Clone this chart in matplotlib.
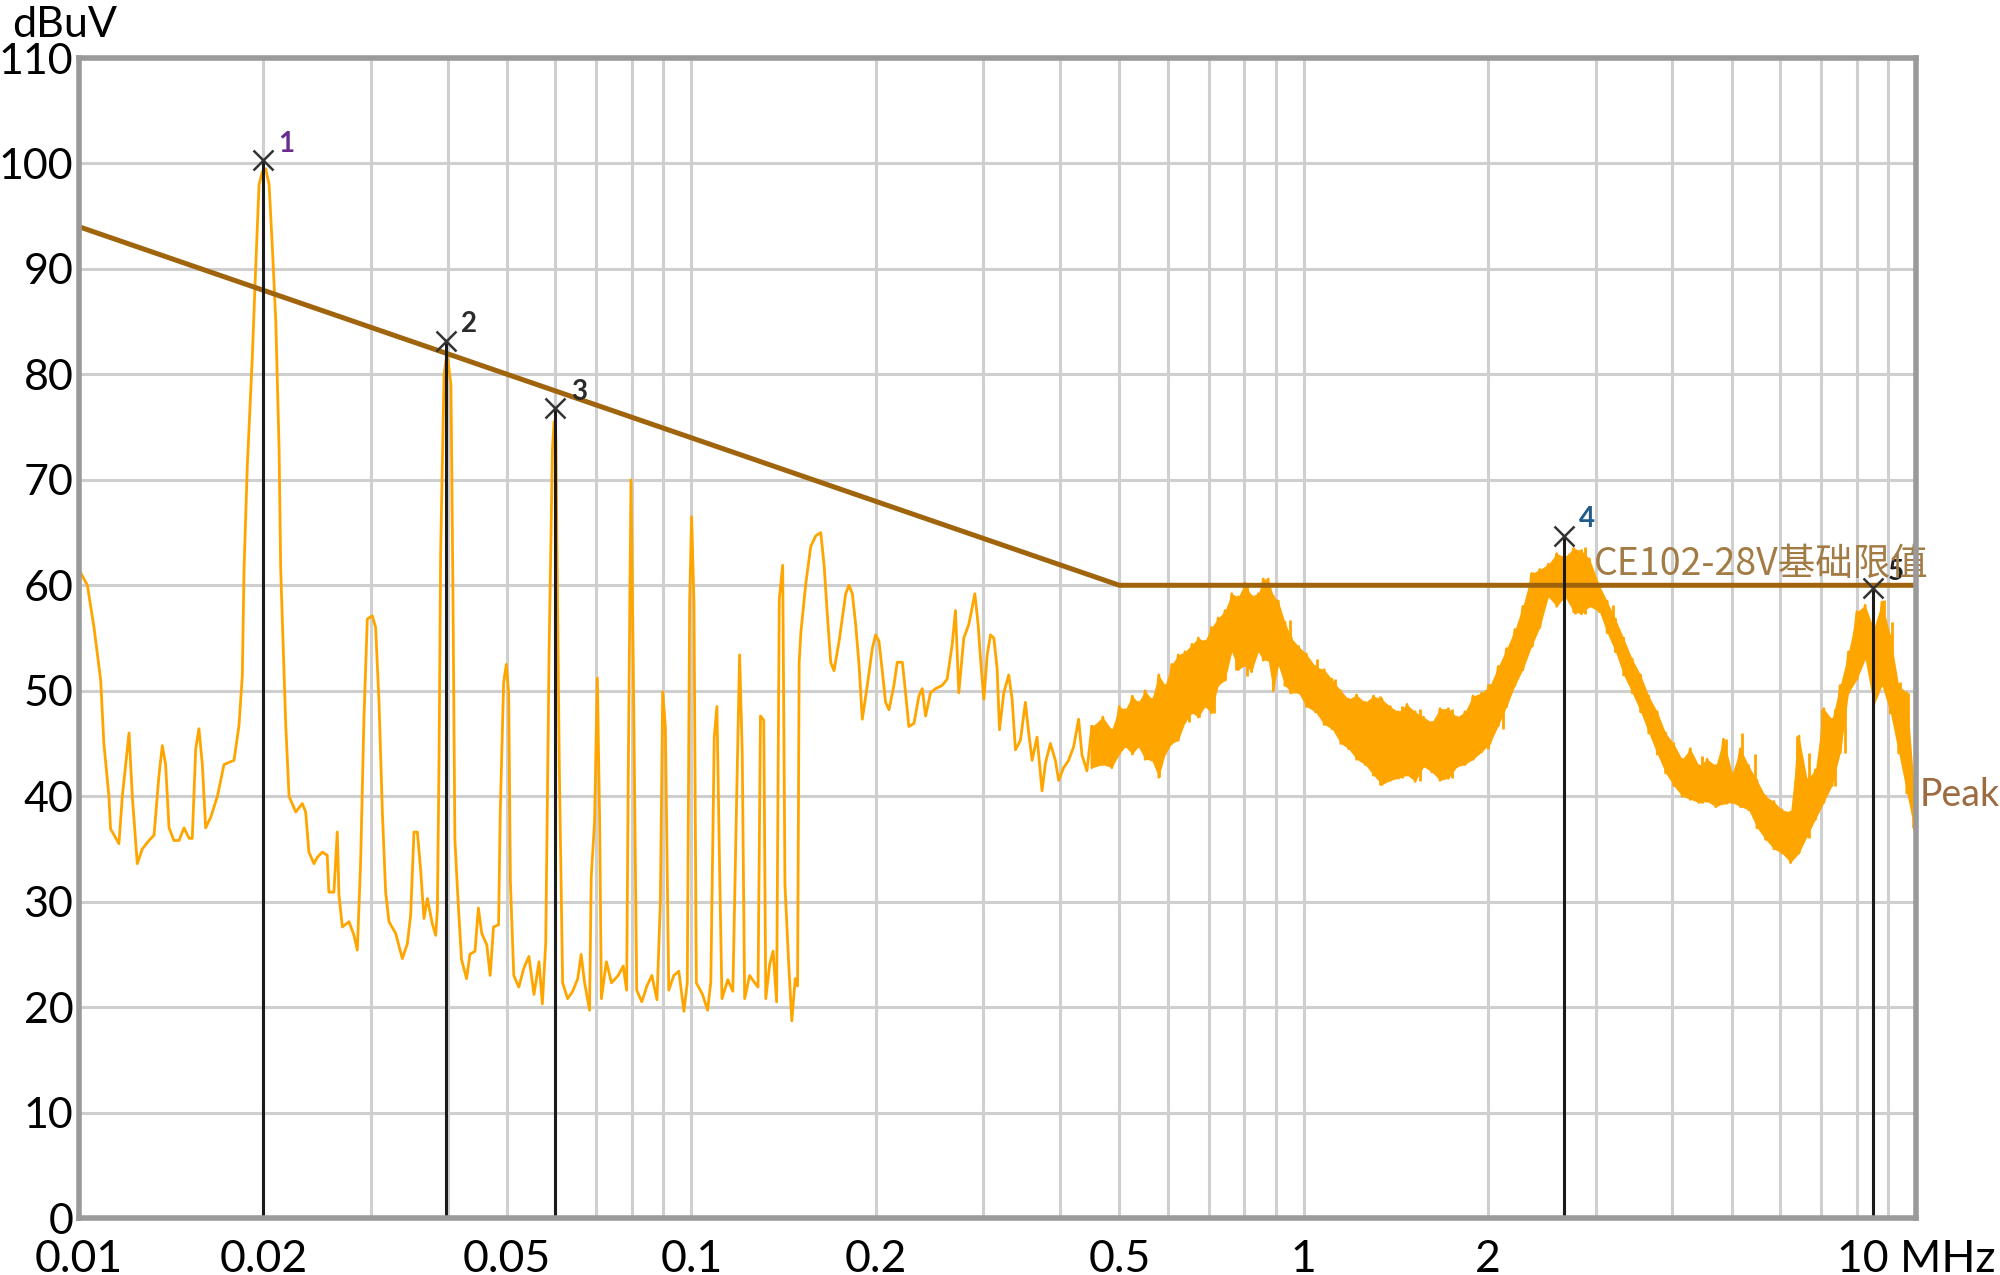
import numpy as np
import matplotlib
matplotlib.use("Agg")
import matplotlib.pyplot as plt
import matplotlib.transforms as mtransforms

plt.rcParams['font.family'] = ['Lato', 'DejaVu Sans']

# thin part of the trace, 0.01 - 0.45 MHz  (MHz, dBuV)
trace_f = [0.01006, 0.01032, 0.01058, 0.01085, 0.01098, 0.01119, 0.01126, 0.01162, 0.01177, 0.01207,
           0.01222, 0.01245, 0.01269, 0.01301, 0.01326, 0.01351, 0.01368, 0.01385, 0.01403, 0.01429,
           0.01457, 0.01484, 0.01513, 0.01531, 0.01551, 0.01570, 0.01590, 0.01610, 0.01641, 0.01683,
           0.01725, 0.01791, 0.01825, 0.01848, 0.01860, 0.01883, 0.01919, 0.01943, 0.01968, 0.01993,
           0.02018, 0.02044, 0.02070, 0.02096, 0.02122, 0.02135, 0.02176, 0.02203, 0.02259, 0.02316,
           0.02345, 0.02374, 0.02419, 0.02450, 0.02496, 0.02543, 0.02559, 0.02608, 0.02641, 0.02658,
           0.02692, 0.02760, 0.02813, 0.02848, 0.02884, 0.02920, 0.02957, 0.03013, 0.03051, 0.03090,
           0.03129, 0.03168, 0.03208, 0.03289, 0.03373, 0.03437, 0.03480, 0.03524, 0.03569, 0.03614,
           0.03659, 0.03706, 0.03776, 0.03824, 0.03848, 0.03872, 0.03896, 0.03946, 0.03990, 0.04050,
           0.04082, 0.04110, 0.04161, 0.04214, 0.04295, 0.04349, 0.04433, 0.04490, 0.04547, 0.04634,
           0.04693, 0.04753, 0.04844, 0.04875, 0.04937, 0.04988, 0.05032, 0.05064, 0.05129, 0.05227,
           0.05327, 0.05429, 0.05534, 0.05639, 0.05711, 0.05784, 0.05858, 0.05932, 0.05970, 0.06008,
           0.06086, 0.06163, 0.06281, 0.06402, 0.06524, 0.06607, 0.06691, 0.06820, 0.06863, 0.06950,
           0.07022, 0.07084, 0.07130, 0.07266, 0.07406, 0.07596, 0.07741, 0.07840, 0.07890, 0.07970,
           0.08040, 0.08143, 0.08300, 0.08461, 0.08622, 0.08788, 0.08900, 0.08979, 0.09070, 0.09186,
           0.09363, 0.09541, 0.09725, 0.09849, 0.09936, 0.1001, 0.1010, 0.1019, 0.1043, 0.1063,
           0.1076, 0.1090, 0.1101, 0.1111, 0.1122, 0.1147, 0.1169, 0.1184, 0.1199, 0.1211,
           0.1222, 0.1245, 0.1269, 0.1285, 0.1297, 0.1313, 0.1323, 0.1343, 0.1360, 0.1378,
           0.1392, 0.1410, 0.1422, 0.1441, 0.1459, 0.1478, 0.1491, 0.1500, 0.1510, 0.1538,
           0.1567, 0.1597, 0.1627, 0.1648, 0.1669, 0.1689, 0.1710, 0.1743, 0.1787, 0.1809,
           0.1832, 0.1855, 0.1879, 0.1902, 0.1938, 0.1975, 0.2000, 0.2025, 0.2051, 0.2076,
           0.2103, 0.2142, 0.2169, 0.2211, 0.2238, 0.2266, 0.2310, 0.2353, 0.2383, 0.2413,
           0.2458, 0.2505, 0.2568, 0.2617, 0.2667, 0.2700, 0.2734, 0.2786, 0.2839, 0.2875,
           0.2904, 0.2940, 0.2966, 0.3004, 0.3042, 0.3080, 0.3119, 0.3158, 0.3186, 0.3238,
           0.3299, 0.3341, 0.3383, 0.3447, 0.3512, 0.3556, 0.3602, 0.3669, 0.3739, 0.3786,
           0.3858, 0.3931, 0.3980, 0.4055, 0.4132, 0.4211, 0.4290, 0.4345, 0.4426, 0.4510]
trace_v = [61.2, 60.0, 56.0, 51.0, 45.0, 40.0, 36.9, 35.5, 40.0, 46.0,
           40.0, 33.6, 35.0, 35.8, 36.3, 42.0, 44.8, 43.0, 37.0, 35.8,
           35.8, 37.0, 36.0, 36.0, 44.5, 46.4, 43.0, 37.0, 38.0, 40.0,
           43.0, 43.4, 46.7, 51.4, 61.5, 71.3, 81.7, 90.0, 98.0, 99.2,
           99.5, 98.0, 91.8, 85.0, 73.0, 61.5, 46.7, 40.0, 38.5, 39.3,
           38.5, 34.7, 33.6, 34.2, 34.7, 34.4, 30.9, 30.9, 36.6, 30.6,
           27.6, 28.1, 26.8, 25.4, 33.9, 47.5, 56.8, 57.1, 56.0, 48.9,
           38.5, 30.9, 28.1, 27.0, 24.6, 26.0, 28.7, 36.6, 36.6, 33.0,
           28.4, 30.3, 27.9, 26.8, 29.2, 43.2, 63.1, 80.0, 82.0, 79.0,
           58.0, 35.9, 29.9, 24.5, 22.7, 25.0, 25.3, 29.4, 27.0, 25.9,
           23.0, 27.6, 27.8, 38.5, 50.8, 52.5, 49.6, 31.9, 23.0, 21.9,
           23.7, 24.8, 21.2, 24.3, 20.3, 26.1, 53.9, 73.0, 75.5, 74.0,
           43.0, 22.3, 20.8, 21.5, 22.7, 25.0, 22.4, 19.7, 32.3, 37.6,
           51.2, 37.6, 20.8, 24.3, 22.3, 23.0, 23.9, 21.6, 42.6, 70.0,
           52.1, 21.6, 20.5, 22.0, 23.0, 20.7, 29.9, 49.9, 46.5, 21.6,
           23.0, 23.4, 19.6, 22.3, 58.3, 66.5, 58.3, 22.3, 21.2, 19.7,
           22.4, 45.6, 48.5, 34.7, 20.8, 22.6, 21.5, 37.9, 53.4, 44.1,
           20.8, 23.0, 22.3, 21.9, 47.6, 47.2, 20.8, 24.1, 25.3, 20.5,
           58.7, 61.9, 31.6, 24.5, 18.7, 22.7, 22.0, 52.7, 55.6, 60.2,
           63.7, 64.7, 65.0, 61.8, 56.9, 52.7, 51.9, 54.7, 59.2, 60.0,
           59.2, 56.3, 52.4, 47.3, 50.5, 54.0, 55.3, 54.7, 51.8, 48.9,
           48.2, 50.5, 52.7, 52.7, 49.8, 46.6, 46.9, 49.5, 50.2, 47.6,
           49.8, 50.2, 50.5, 51.1, 54.4, 57.6, 49.8, 55.0, 56.3, 57.9,
           59.2, 56.3, 53.1, 49.2, 53.4, 55.3, 55.0, 52.1, 46.3, 49.8,
           51.5, 49.2, 44.4, 45.3, 48.9, 46.0, 43.4, 45.6, 40.5, 43.1,
           45.0, 43.4, 41.5, 42.7, 43.4, 44.7, 47.3, 43.9, 42.4, 46.6]

# dense part of the trace, 0.45 - 10 MHz: upper and lower edge of the band
band_f = [0.451, 0.470, 0.486, 0.500, 0.511, 0.525, 0.537, 0.551, 0.565, 0.580,
          0.594, 0.609, 0.624, 0.640, 0.657, 0.673, 0.690, 0.707, 0.725, 0.744,
          0.763, 0.782, 0.802, 0.822, 0.843, 0.859, 0.875, 0.892, 0.909, 0.932,
          0.955, 0.981, 1.010, 1.045, 1.080, 1.112, 1.150, 1.184, 1.220, 1.260,
          1.300, 1.342, 1.385, 1.428, 1.475, 1.521, 1.570, 1.619, 1.670, 1.723,
          1.780, 1.834, 1.890, 1.953, 2.015, 2.079, 2.145, 2.213, 2.280, 2.356,
          2.430, 2.509, 2.590, 2.671, 2.760, 2.843, 2.930, 3.040, 3.130, 3.230,
          3.330, 3.440, 3.550, 3.660, 3.780, 3.900, 4.020, 4.150, 4.280, 4.420,
          4.560, 4.710, 4.850, 5.010, 5.170, 5.330, 5.500, 5.680, 5.860, 6.040,
          6.240, 6.440, 6.640, 6.850, 7.070, 7.290, 7.520, 7.760, 8.010, 8.260,
          8.530, 8.800, 9.080, 9.370, 9.660, 9.910]
band_hi = [46.6, 47.5, 46.3, 48.5, 48.2, 49.5, 48.9, 50.0, 49.2, 51.5,
           50.5, 52.5, 53.4, 53.7, 54.4, 55.0, 54.7, 56.0, 56.9, 57.6,
           59.2, 58.9, 60.2, 59.0, 59.2, 60.6, 60.6, 59.0, 58.5, 56.5,
           55.0, 54.2, 53.5, 52.3, 52.0, 51.1, 50.0, 49.2, 49.6, 48.9,
           49.5, 49.2, 48.5, 48.0, 48.7, 48.0, 47.5, 47.0, 48.3, 48.3,
           47.5, 48.0, 49.5, 49.8, 50.5, 52.3, 54.0, 55.8, 58.0, 61.1,
           61.5, 62.0, 63.0, 62.7, 63.5, 63.3, 62.5, 60.0, 58.5, 56.8,
           55.0, 53.0, 51.5, 49.5, 48.0, 46.0, 45.0, 43.5, 44.5, 42.9,
           43.5, 42.9, 45.4, 42.2, 44.5, 42.9, 41.5, 40.0, 39.5, 38.7,
           38.5, 45.7, 41.6, 42.5, 48.3, 47.3, 50.5, 53.7, 57.5, 58.1,
           55.9, 58.4, 55.2, 50.5, 49.8, 41.6]
band_lo = [42.7, 43.0, 42.7, 44.0, 44.7, 44.0, 44.7, 43.5, 43.4, 41.8,
           44.0, 45.0, 45.3, 47.0, 47.9, 47.5, 48.5, 47.9, 50.5, 51.0,
           53.7, 52.0, 52.4, 51.8, 53.7, 52.9, 52.9, 50.0, 52.4, 50.5,
           49.8, 49.8, 48.5, 48.0, 46.8, 46.4, 45.0, 44.5, 43.5, 43.0,
           42.0, 41.1, 41.5, 41.7, 42.0, 41.4, 42.8, 42.3, 41.5, 41.7,
           42.8, 43.0, 43.5, 44.2, 45.0, 46.7, 48.5, 50.5, 52.0, 54.2,
           56.0, 58.9, 58.0, 58.9, 57.5, 57.3, 58.0, 57.5, 55.5, 53.7,
           51.5, 49.8, 48.0, 46.0, 44.0, 42.2, 41.0, 40.0, 39.7, 39.4,
           39.5, 39.0, 39.3, 39.4, 39.0, 38.7, 37.0, 35.9, 35.0, 34.6,
           33.7, 34.6, 36.2, 37.8, 39.4, 41.0, 44.1, 49.8, 51.1, 53.0,
           48.6, 50.5, 47.9, 44.1, 40.3, 37.1]

# single spikes standing out of the band (MHz, bottom, top)
spike_f = [0.475, 0.525, 0.580, 0.650, 0.674, 0.713, 0.745, 0.774, 0.808, 0.871,
           0.951, 1.050, 1.126, 1.214, 1.334, 1.446, 1.549, 1.745, 1.893, 2.000,
           2.120, 2.360, 2.770, 2.880, 3.200, 4.470, 4.890, 5.200, 5.460, 6.400,
           6.680, 7.030, 7.380, 7.660, 8.860, 9.130, 9.410, 9.700, 9.910]
spike_lo = [43.0, 44.0, 41.8, 47.0, 47.5, 47.9, 51.0, 52.0, 51.4, 52.9,
            49.8, 48.0, 46.4, 44.0, 41.1, 41.7, 41.4, 41.7, 43.5, 44.5,
            46.4, 54.2, 57.3, 57.3, 54.5, 39.4, 39.3, 39.0, 38.0, 34.6,
            36.0, 39.4, 41.0, 44.1, 50.5, 47.9, 44.1, 40.3, 36.8]
spike_hi = [46.4, 49.2, 44.0, 53.0, 54.2, 54.8, 57.3, 58.6, 60.2, 60.3,
            56.7, 53.0, 51.1, 49.2, 49.5, 48.6, 48.3, 48.3, 49.2, 50.6,
            48.0, 61.3, 60.0, 63.6, 58.1, 43.8, 45.4, 46.0, 44.0, 45.7,
            44.1, 48.3, 48.3, 50.8, 58.6, 56.5, 50.8, 49.8, 41.6]

# CE102 28V limit
limit_f = [0.01, 0.5, 10.0]
limit_v = [94.0, 60.0, 60.0]

# markers
mk_f = [0.02, 0.0397, 0.06, 2.66, 8.5]
mk_v = [100.3, 83.2, 76.8, 64.7, 59.7]
mk_lbl = ['1', '2', '3', '4', '5']
mk_col = ['#6a2d8f', '#2b2b2b', '#2b2b2b', '#1f5c8a', '#1e1e1e']

xtick_pos = [0.01, 0.02, 0.05, 0.1, 0.2, 0.5, 1, 2, 10]
xtick_lbl = ['0.01', '0.02', '0.05', '0.1', '0.2', '0.5', '1', '2', '10 MHz']
ytick_pos = list(range(0, 111, 10))

orange = '#ffa500'
brown = '#a0650c'

fig = plt.figure(figsize=(20, 12.75), dpi=100)
ax = fig.add_axes([0.0395, 0.0447, 0.9185, 0.9098])
ax.set_xscale('log')
ax.set_xlim(0.01, 10)
ax.set_ylim(0, 110)

# grid at every 1..9 step of each decade
grid_x = [m * 10.0 ** e for e in (-2, -1, 0) for m in range(1, 10)] + [10.0]
for gx in grid_x:
    ax.axvline(gx, color='#cfcfcf', lw=2.2, zorder=0)
for gy in ytick_pos:
    ax.axhline(gy, color='#cfcfcf', lw=2.2, zorder=0)

ax.plot(trace_f, trace_v, color=orange, lw=2.0, zorder=2)
ax.fill_between(band_f, band_lo, band_hi, color=orange, lw=0, zorder=2)
zx = np.repeat(band_f, 2)
zy = np.column_stack([band_hi, band_lo]).ravel()
ax.plot(zx, zy, color=orange, lw=2.0, zorder=2)
ax.vlines(spike_f, spike_lo, spike_hi, color=orange, lw=2.0, zorder=2)

ax.plot(limit_f, limit_v, color=brown, lw=3.6, zorder=3)

for f, v, t, c in zip(mk_f, mk_v, mk_lbl, mk_col):
    ax.plot([f, f], [0, v], color='#1a1a1a', lw=2.2, zorder=4)
    ax.plot(f, v, marker='x', ms=15, mew=1.8, color='#333333', zorder=5)
    ax.annotate(t, (f, v), xytext=(11, 6), textcoords='offset points',
                ha='left', va='baseline', fontsize=20, fontweight='bold', color=c, zorder=6)

ax.text(2.98, 61.0, 'CE102-28V基础限值', fontsize=27, color='#a27b45',
        family=['Noto Sans CJK SC', 'DejaVu Sans'], va='baseline', zorder=6)

trans = mtransforms.blended_transform_factory(ax.transAxes, ax.transData)
ax.text(1.002, 40.1, 'Peak', transform=trans, fontsize=27, color='#9c6b3f',
        va='center', ha='left', clip_on=False)

ax.set_xticks(xtick_pos)
ax.set_xticklabels(xtick_lbl)
ax.xaxis.set_minor_locator(matplotlib.ticker.NullLocator())
ax.set_yticks(ytick_pos)
ax.tick_params(axis='both', length=0)
ax.tick_params(axis='x', pad=15, labelsize=32)
ax.tick_params(axis='y', pad=4, labelsize=31)

for s in ax.spines.values():
    s.set_color('#9a9a9a')
    s.set_linewidth(4)
    s.set_zorder(7)

fig.text(0.006, 1 - 37 / 1275, 'dBuV', fontsize=31, va='baseline')

fig.savefig('out.png', dpi=100)
